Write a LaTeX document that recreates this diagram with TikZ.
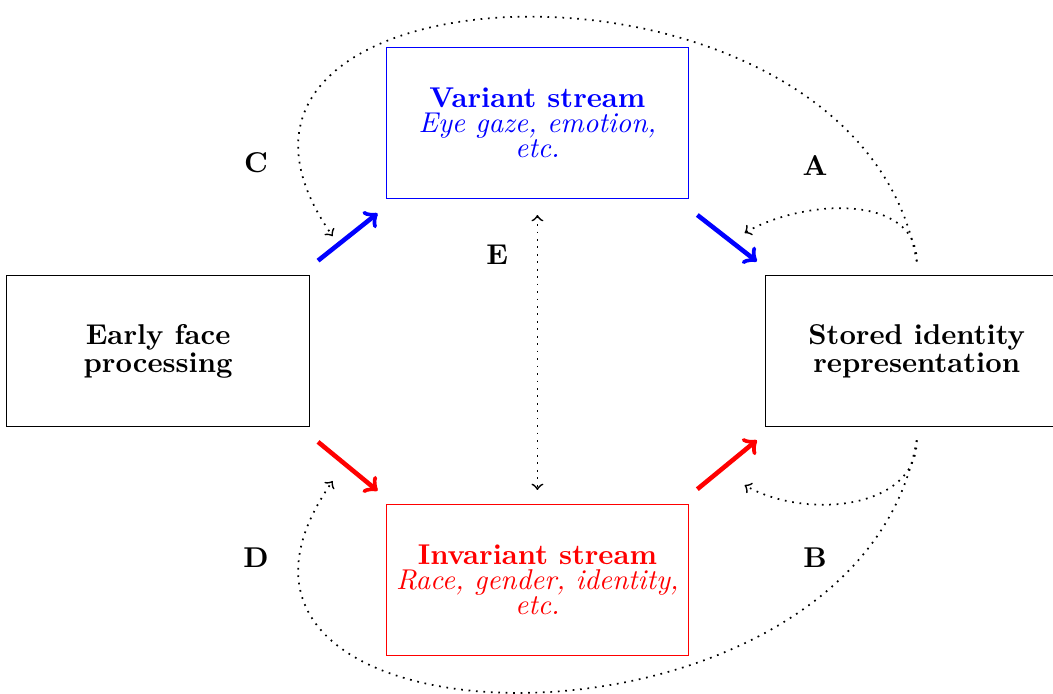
\documentclass[tikz,border=0pt]{standalone}
\usepackage{tikz}
\usetikzlibrary{positioning, calc}
\tikzset{
  stage/.style={rectangle, draw=#1, text=#1, align=center, inner sep=2pt,
    minimum width=37.1mm, minimum height=18.5mm, font=\fontsize{10pt}{8.6pt}\selectfont},
  stage/.default=black,
  route/.style={->, draw=#1, ultra thick},
  link/.style={->, semithick, dotted},
  tag/.style={font=\bfseries},
}

\begin{document}
\begin{tikzpicture}[node distance=9.4mm and 9.3mm]
\useasboundingbox (-1.94,-4.20) rectangle (10.98,4.31);

\node[stage] (early) at (0,0) {\textbf{Early face}\\ \textbf{processing}};
\node[stage=blue, above right=of early] (variant) {\textbf{Variant stream}\\ \textit{Eye gaze, emotion,}\\ \textit{etc.}};
\node[stage=red, below right=of early] (invariant) {\textbf{Invariant stream}\\ \textit{Race, gender, identity,}\\ \textit{etc.}};
\node[stage, below right=of variant] (stored) {\textbf{Stored identity}\\ \textbf{representation}};

% the two streams
\draw[route=blue] ($(early.north east)+(0.1,0.18)$) -- ($(variant.south west)+(-0.1,-0.18)$);
\draw[route=blue] ($(variant.south east)+(0.1,-0.2)$) -- ($(stored.north west)+(-0.1,0.17)$);
\draw[route=red] ($(early.south east)+(0.1,-0.18)$) -- ($(invariant.north west)+(-0.1,0.16)$);
\draw[route=red] ($(invariant.north east)+(0.1,0.18)$) -- ($(stored.south west)+(-0.1,-0.16)$);

% feedback from the stored representation
\draw[link] ($(stored.north)+(0,0.17)$) to[out=90, in=30] ($(variant.south east)+(0.68,-0.42)$);
\draw[link] ($(stored.south)+(0,-0.16)$) to[out=-90, in=-30] ($(invariant.north east)+(0.68,0.23)$);
\draw[link] ($(stored.north)+(0,0.17)$) to[out=100, in=125, looseness=1.5] ($(early.north east)+(0.28,0.48)$);
\draw[link] ($(stored.south)+(0,-0.16)$) to[out=-100, in=-125, looseness=1.5] ($(early.south east)+(0.28,-0.66)$);
\draw[link, <->, shorten <=2mm, shorten >=1.7mm] (variant.south) -- (invariant.north);

\node[tag] (labA) at (8.06,2.28) {A};
\node[tag] (labB) at (8.06,-2.53) {B};
\node[tag] (labC) at (1.20,2.31) {C};
\node[tag] (labD) at (1.20,-2.53) {D};
\node[tag] (labE) at (4.16,1.18) {E};
\end{tikzpicture}
\end{document}
